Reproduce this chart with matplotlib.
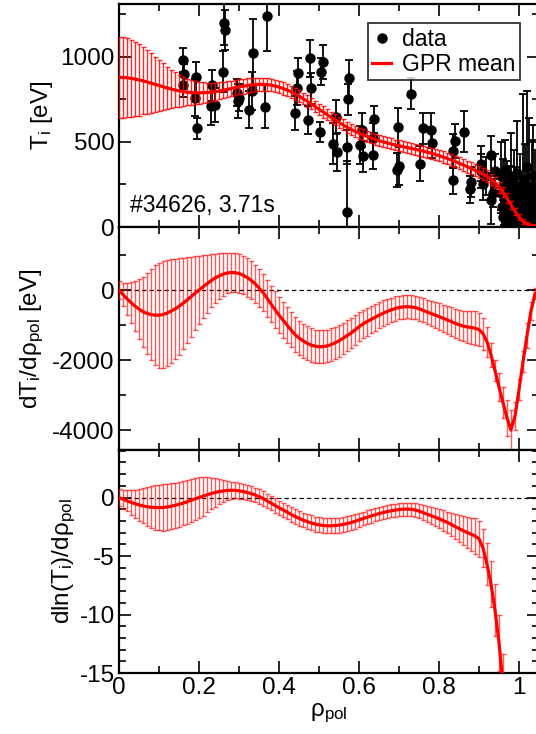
import numpy as np
import matplotlib
matplotlib.use("Agg")
import matplotlib.pyplot as plt
from matplotlib.ticker import MultipleLocator, FormatStrFormatter
from matplotlib.lines import Line2D

plt.rcParams['font.family'] = ['Liberation Sans', 'DejaVu Sans']
plt.rcParams['mathtext.fontset'] = 'custom'
plt.rcParams['mathtext.rm'] = 'Liberation Sans'
plt.rcParams['mathtext.it'] = 'Liberation Sans'
plt.rcParams['axes.unicode_minus'] = False

# ---------------- data ----------------
rho = [round(0.01 * i, 2) for i in range(105)]   # GPR evaluation grid 0 .. 1.04

ti_mean = [879, 878, 877, 873, 869, 864, 859, 852, 845, 838,
           831, 824, 817, 811, 805, 800, 796, 792, 790, 789,
           788, 789, 790, 792, 795, 799, 803, 808, 813, 818,
           823, 827, 831, 834, 836, 838, 838, 836, 833, 828,
           822, 814, 805, 794, 782, 769, 754, 740, 724, 708,
           692, 676, 660, 644, 629, 614, 600, 586, 574, 562,
           551, 541, 532, 523, 515, 507, 500, 494, 488, 482,
           477, 472, 467, 462, 457, 452, 446, 440, 434, 427,
           419, 411, 403, 394, 385, 375, 365, 355, 344, 333,
           322, 310, 297, 280, 260, 234, 204, 169, 130, 92,
           58, 34, 18, 9, 6]
ti_err = [240, 236, 232, 226, 218, 209, 198, 187, 175, 162,
          150, 137, 125, 114, 103, 93, 85, 78, 72, 67,
          63, 60, 57, 54, 52, 50, 48, 47, 46, 45,
          44, 43, 42, 41, 40, 39, 38, 38, 37, 37,
          36, 36, 35, 35, 35, 34, 34, 34, 33, 33,
          33, 33, 33, 32, 32, 32, 32, 32, 32, 32,
          32, 32, 32, 32, 32, 32, 32, 32, 32, 32,
          32, 32, 32, 32, 32, 32, 32, 32, 32, 32,
          33, 33, 33, 33, 34, 34, 34, 35, 35, 35,
          36, 36, 35, 34, 33, 32, 30, 28, 25, 22,
          18, 15, 12, 10, 9]

dti_mean = [0, -130, -250, -360, -460, -545, -620, -670, -700, -718,
            -720, -700, -660, -605, -540, -465, -380, -290, -190, -95,
            0, 90, 180, 265, 340, 400, 450, 485, 500, 495,
            470, 425, 360, 280, 180, 60, -70, -230, -400, -560,
            -720, -860, -1000, -1140, -1270, -1370, -1450, -1520, -1570, -1605,
            -1620, -1615, -1600, -1560, -1510, -1450, -1380, -1305, -1230, -1140,
            -1050, -970, -900, -840, -780, -720, -665, -615, -570, -530,
            -500, -482, -476, -485, -500, -535, -580, -625, -670, -715,
            -760, -805, -850, -900, -950, -990, -1030, -1055, -1070, -1090,
            -1130, -1250, -1480, -1850, -2300, -2770, -3220, -3650, -4000, -3600,
            -2850, -2050, -1300, -600, -100]
dti_err = [250, 330, 450, 580, 720, 860, 1000, 1150, 1300, 1420,
           1500, 1530, 1520, 1490, 1440, 1380, 1300, 1220, 1140, 1060,
           980, 900, 830, 760, 700, 650, 610, 580, 560, 550,
           550, 550, 550, 550, 545, 540, 535, 530, 525, 520,
           515, 510, 505, 500, 495, 490, 485, 480, 478, 476,
           476, 474, 470, 465, 460, 455, 448, 440, 432, 424,
           416, 408, 400, 392, 384, 376, 368, 360, 352, 345,
           340, 335, 332, 332, 335, 340, 346, 352, 360, 368,
           376, 385, 395, 405, 415, 425, 440, 455, 470, 480,
           480, 460, 430, 350, 300, 400, 450, 520, 560, 400,
           300, 300, 350, 250, 150]

dln_mean = [0.0, -0.15, -0.29, -0.41, -0.53, -0.63, -0.72, -0.79, -0.83, -0.86,
            -0.87, -0.85, -0.81, -0.75, -0.67, -0.58, -0.48, -0.37, -0.24, -0.12,
            0.0, 0.11, 0.23, 0.33, 0.43, 0.50, 0.56, 0.60, 0.62, 0.61,
            0.57, 0.51, 0.43, 0.34, 0.22, 0.07, -0.08, -0.28, -0.48, -0.68,
            -0.88, -1.06, -1.24, -1.44, -1.62, -1.78, -1.92, -2.06, -2.17, -2.27,
            -2.34, -2.39, -2.42, -2.42, -2.40, -2.36, -2.30, -2.23, -2.14, -2.04,
            -1.92, -1.80, -1.69, -1.58, -1.48, -1.38, -1.29, -1.21, -1.14, -1.08,
            -1.03, -1.00, -0.99, -1.01, -1.06, -1.16, -1.29, -1.42, -1.55, -1.68,
            -1.82, -1.97, -2.12, -2.29, -2.48, -2.65, -2.83, -2.99, -3.13, -3.29,
            -3.53, -4.30, -5.70, -7.40, -9.60, -12.4, -16.0, -21.5, -30.0]
dln_err = [0.70, 0.80, 0.90, 1.05, 1.20, 1.35, 1.50, 1.65, 1.80, 1.90,
           1.95, 1.98, 1.98, 1.97, 1.95, 1.92, 1.90, 1.87, 1.84, 1.80,
           1.75, 1.65, 1.50, 1.35, 1.20, 1.05, 0.92, 0.80, 0.72, 0.68,
           0.66, 0.64, 0.63, 0.62, 0.62, 0.62, 0.62, 0.62, 0.62, 0.62,
           0.62, 0.62, 0.62, 0.62, 0.62, 0.63, 0.63, 0.63, 0.64, 0.64,
           0.64, 0.65, 0.65, 0.65, 0.65, 0.65, 0.64, 0.63, 0.62, 0.61,
           0.60, 0.59, 0.58, 0.57, 0.56, 0.55, 0.55, 0.55, 0.55, 0.55,
           0.55, 0.55, 0.56, 0.57, 0.58, 0.60, 0.63, 0.66, 0.70, 0.75,
           0.80, 0.86, 0.92, 0.99, 1.06, 1.13, 1.21, 1.30, 1.40, 1.50,
           1.55, 1.60, 1.80, 2.00, 2.20, 2.40, 2.60, 3.0, 3.5]

# measured ion temperature points
data_rho = [0.159, 0.162, 0.159, 0.193, 0.194, 0.190, 0.232, 0.230, 0.240, 0.263,
            0.266, 0.259, 0.297, 0.301, 0.294, 0.334, 0.332, 0.325, 0.371, 0.365,
            0.440, 0.444, 0.448, 0.473, 0.477, 0.481, 0.503, 0.506, 0.510, 0.535,
            0.543, 0.544, 0.571, 0.571, 0.573, 0.576, 0.603, 0.607, 0.610, 0.636,
            0.636, 0.638, 0.694, 0.700, 0.698, 0.729, 0.753, 0.759, 0.779, 0.782,
            0.834, 0.836, 0.841, 0.863, 0.881, 0.878, 0.904, 0.929, 0.929,
            0.905, 0.910, 0.917, 0.935, 0.940,
            0.955, 0.957, 0.959, 0.961, 0.963, 0.965, 0.967, 0.969, 0.971, 0.973,
            0.975, 0.978, 0.981, 0.984, 0.987, 0.990, 0.993, 0.996, 0.999, 1.002,
            1.005, 1.008, 1.011, 1.014, 1.017, 1.020, 1.023, 1.026, 1.029, 1.032,
            1.035, 1.038, 1.041,
            0.956, 0.962, 0.968, 0.974, 0.980, 0.986, 0.992, 0.998, 1.004, 1.010,
            1.016, 1.022, 1.028, 1.034, 1.040]
data_ti = [981, 898, 833, 879, 579, 760, 833, 710, 715, 1200,
           1157, 912, 740, 760, 790, 1020, 800, 690, 1241, 706,
           667, 814, 902, 628, 990, 814, 559, 912, 971, 490,
           647, 441, 88, 471, 749, 873, 481, 569, 416, 422,
           520, 632, 333, 359, 588, 784, 373, 579, 567, 494,
           275, 447, 505, 559, 265, 221, 373, 422, 157,
           330, 250, 300, 200, 330,
           300, 120, 240, 60, 180, 330, 20, 150, 260, 90,
           210, 40, 300, 130, 250, 10, 170, 320, 70, 230,
           120, 30, 280, 190, 60, 350, 100, 240, 20, 160,
           300, 80, 200,
           200, 100, 40, 230, 110, 60, 140, 30, 90, 150,
           50, 20, 120, 60, 130]
data_err = [70, 60, 70, 90, 60, 110, 90, 110, 100, 130,
            120, 120, 100, 80, 80, 200, 110, 110, 205, 127,
            100, 100, 90, 80, 110, 90, 60, 80, 100, 120,
            100, 110, 300, 100, 90, 110, 110, 100, 90, 80,
            90, 80, 100, 110, 110, 90, 100, 90, 100, 90,
            80, 100, 100, 120, 90, 80, 100, 110, 140,
            100, 90, 110, 80, 100,
            200, 120, 160, 100, 140, 180, 90, 200, 130, 150,
            110, 160, 250, 130, 200, 120, 180, 300, 150, 200,
            160, 120, 500, 300, 200, 450, 250, 400, 150, 350,
            300, 200, 250,
            120, 90, 80, 130, 100, 90, 110, 80, 100, 120,
            90, 70, 100, 80, 110]

shot_label = "#34626, 3.71s"

# ---------------- figure ----------------
W, H = 536, 734
fig = plt.figure(figsize=(W / 100, H / 100), dpi=100)

left = 119 / W
width = 420 / W
ph = 223 / H
axes = [fig.add_axes([left, 1 - 227 / H, width, ph]),
        fig.add_axes([left, 1 - 450 / H, width, ph]),
        fig.add_axes([left, 1 - 673 / H, width, ph])]

red = '#ff0000'
fs = 17.5

def style(ax, ymaj, ymin):
    ax.set_xlim(0, 1.05)
    ax.xaxis.set_major_locator(MultipleLocator(0.2))
    ax.xaxis.set_minor_locator(MultipleLocator(0.1))
    ax.yaxis.set_major_locator(MultipleLocator(ymaj))
    ax.yaxis.set_minor_locator(MultipleLocator(ymin))
    ax.tick_params(which='both', direction='in', top=True, right=True,
                   width=1.2, labelsize=fs, pad=3)
    ax.tick_params(which='major', length=8.5)
    ax.tick_params(which='minor', length=5)
    for s in ax.spines.values():
        s.set_linewidth(1.6)
    ax.xaxis.set_major_formatter(FormatStrFormatter('%g'))
    ax.yaxis.set_major_formatter(FormatStrFormatter('%g'))

def gpr(ax, y, e, alpha=0.65):
    n = len(y)
    ax.errorbar(rho[:n], y, yerr=e, fmt='none', ecolor=red, elinewidth=1.0,
                capsize=1.8, capthick=1.0, alpha=alpha, zorder=4)
    ax.plot(rho[:n], y, color=red, lw=2.3, zorder=5)

# top panel
ax = axes[0]
ax.errorbar(data_rho, data_ti, yerr=data_err, fmt='o', color='black', ms=6.5,
            elinewidth=1.3, capsize=3, capthick=1.3, zorder=3)
gpr(ax, ti_mean, ti_err, alpha=0.85)
ax.set_ylim(0, 1310)
style(ax, 500, 250)
ax.tick_params(labelbottom=False)
ax.text(0.028, 125, shot_label, fontsize=16.5, va='center', ha='left')
hd = [Line2D([], [], marker='o', color='black', ls='none', ms=6.5),
      Line2D([], [], color=red, lw=2.3)]
leg = ax.legend(hd, ['data', 'GPR mean'], loc='upper right', bbox_to_anchor=(0.955, 0.915),
                fontsize=16.5, frameon=True, fancybox=False, borderpad=0.2,
                handlelength=0.8, handletextpad=0.5, labelspacing=0.1, borderaxespad=0)
leg.get_frame().set_edgecolor('black')
leg.get_frame().set_linewidth(1.3)
leg.set_zorder(10)
ax.set_ylabel(r'T$_\mathregular{i}$ [eV]', fontsize=fs)
ax.yaxis.set_label_coords(-0.152, 0.5)

# middle panel
ax = axes[1]
ax.axhline(0, color='black', ls=(0, (3.5, 2.5)), lw=0.9, zorder=2)
gpr(ax, dti_mean, dti_err)
ax.set_ylim(-4570, 1800)
style(ax, 2000, 1000)
ax.tick_params(labelbottom=False)
ax.set_ylabel(r'dT$_\mathregular{i}$/dρ$_\mathregular{pol}$ [eV]', fontsize=fs)
ax.yaxis.set_label_coords(-0.174, 0.5)

# bottom panel
ax = axes[2]
ax.axhline(0, color='black', ls=(0, (3.5, 2.5)), lw=0.9, zorder=2)
gpr(ax, dln_mean, dln_err)
ax.set_ylim(-15, 4.06)
style(ax, 5, 1)
ax.set_ylabel(r'dln(T$_\mathregular{i}$)/dρ$_\mathregular{pol}$', fontsize=fs)
ax.yaxis.set_label_coords(-0.097, 0.5)
ax.set_xlabel(r'ρ$_\mathregular{pol}$', fontsize=fs, labelpad=2)

fig.savefig('out.png', dpi=100)
